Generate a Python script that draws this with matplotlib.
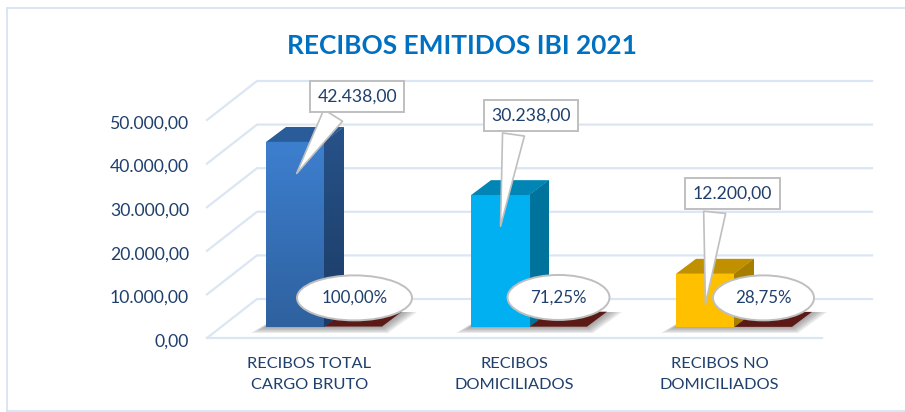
import numpy as np
import matplotlib.pyplot as plt
from matplotlib.lines import Line2D
from matplotlib.patches import Ellipse, Polygon
from matplotlib.colors import LinearSegmentedColormap
from matplotlib.transforms import ScaledTranslation

plt.rcParams['font.family'] = ['Lato', 'DejaVu Sans']

# datos
categorias = ['RECIBOS TOTAL\nCARGO BRUTO', 'RECIBOS\nDOMICILIADOS', 'RECIBOS NO\nDOMICILIADOS']
recibos = [42438.00, 30238.00, 12200.00]
porcentajes = [100.00, 71.25, 28.75]
ticks_y = [0, 10000, 20000, 30000, 40000, 50000]

W, H = 905, 412
ESC_X = 205.0        # px por categoria
ESC_Y = 218 / 50000  # px por unidad

# colores de cada barra: frente arriba, frente abajo, lateral arriba, lateral abajo, tapa
colores = [('#3d7fcf', '#2f619f', '#275289', '#1c3c66', '#2a5c99'),
           ('#00b0f0', '#00b0f0', '#00739c', '#00739c', '#0085b5'),
           ('#ffc000', '#ffc000', '#a67e00', '#a67e00', '#c09000')]
texto = '#1f3f6d'
rejilla = '#dbe6f4'
marco = '#d3e2f3'


def px_x(p):
    return p / ESC_X


def px_y(p):
    return p / ESC_Y


def numero(v):
    return f'{v:,.2f}'.replace(',', 'X').replace('.', ',').replace('X', '.')


fig = plt.figure(figsize=(W / 100, H / 100), dpi=100)
# marco: izquierda, arriba y abajo
for xs, ys in [([7, 7], [8, 411]), ([7, W], [8, 8]), ([7, W], [411, 411])]:
    fig.add_artist(Line2D([x / W for x in xs], [(H - y) / H for y in ys], color=marco, lw=1.2))

ax = fig.add_axes([207 / W, (H - 338) / H, 615 / W, 218 / H])
ax.set_xlim(-0.5, 2.5)
ax.set_ylim(0, 50000)
for s in ax.spines.values():
    s.set_visible(False)
ax.patch.set_alpha(0)

# profundidad del suelo y de la barra
prof_x, prof_y = px_x(50), px_y(39)
sep_x, sep_y = px_x(14.5), px_y(11)
bar_x, bar_y = px_x(20), px_y(15)
ancho = px_x(58)

# rejilla
for t in ticks_y:
    ax.plot([-0.5, -0.5 + prof_x, 2.5 + prof_x], [t, t + prof_y, t + prof_y],
            color=rejilla, lw=1.6, clip_on=False, zorder=1)
ax.plot([-0.5, 2.5], [0, 0], color=rejilla, lw=1.6, clip_on=False, zorder=1)


def degradado(patch, c1, c2, x0, x1, y0, y1, z):
    cm = LinearSegmentedColormap.from_list('g', [c2, c1])
    im = ax.imshow(np.linspace(1, 0, 64).reshape(-1, 1), cmap=cm, extent=(x0, x1, y0, y1),
                   aspect='auto', zorder=z, clip_on=True)
    im.set_clip_path(patch)


for i, (v, p) in enumerate(zip(recibos, porcentajes)):
    c = colores[i]
    x0 = i - ancho + sep_x
    x1 = i + sep_x
    x2 = i + ancho + sep_x
    y0 = sep_y

    # sombra
    for k in range(5):
        e = px_x(3 * (5 - k))
        s = px_y(1.2 * (5 - k))
        ax.add_patch(Polygon([(x0 - e, y0 - s), (x2 + e * 0.4, y0 - s),
                              (x2 + bar_x + e, y0 + bar_y), (x0 + bar_x, y0 + bar_y)],
                             fc='#555555', ec='none', alpha=0.12, zorder=2, clip_on=False))

    # serie de porcentajes: casi plana sobre el suelo
    ax.bar(i + ancho / 2 + sep_x, p, ancho, bottom=y0, color='#5c1a16', zorder=3)
    ax.add_patch(Polygon([(x1, y0 + p), (x2, y0 + p), (x2 + bar_x, y0 + p + bar_y), (x1 + bar_x, y0 + p + bar_y)],
                         fc='#5c1a16', ec='none', zorder=3, clip_on=False))

    # serie de recibos
    lat = Polygon([(x1, y0), (x1 + bar_x, y0 + bar_y), (x1 + bar_x, y0 + v + bar_y), (x1, y0 + v)],
                  fc=c[2], ec='none', zorder=4, clip_on=False)
    ax.add_patch(lat)
    degradado(lat, c[2], c[3], x1, x1 + bar_x, y0, y0 + v + bar_y, 4)
    ax.add_patch(Polygon([(x0, y0 + v), (x1, y0 + v), (x1 + bar_x, y0 + v + bar_y), (x0 + bar_x, y0 + v + bar_y)],
                         fc=c[4], ec='none', zorder=4, clip_on=False))
    frente = ax.bar(i - ancho / 2 + sep_x, v, ancho, bottom=y0, color=c[0], zorder=5, clip_on=False)[0]
    degradado(frente, c[0], c[1], x0, x1, y0, y0 + v, 5)

ax.set_xlim(-0.5, 2.5)
ax.set_ylim(0, 50000)

# etiquetas de porcentaje
centros = [(45, 9200), (44, 9300), (44, 9200)]
anchos = [115, 102, 101]
for i, p in enumerate(porcentajes):
    cx = i + px_x(centros[i][0])
    ax.add_patch(Ellipse((cx, centros[i][1]), px_x(anchos[i]), px_y(45), fc='white', ec='#bfbfbf',
                         lw=1.4, zorder=7, clip_on=False))
    ax.text(cx, centros[i][1], f'{p:.2f}%'.replace('.', ','), ha='center', va='center',
            fontsize=12.2, color=texto, zorder=8)

# etiquetas de recibos con su flecha
puntas = [(-0.07, 37200), (-0.07, 25000), (-0.07, 7100)]
cajas = [(0.233, 55300), (0.08, 51000), (0.063, 33150)]
bases = [0.28, 0.3, 0.29]
for i, v in enumerate(recibos):
    ax.annotate(numero(v), xy=(i + puntas[i][0], puntas[i][1]), xytext=(i + cajas[i][0], cajas[i][1]),
                ha='center', va='center', fontsize=12.7, color=texto, zorder=9, annotation_clip=False,
                bbox=dict(boxstyle='square,pad=0.42', fc='white', ec='#bfbfbf', lw=1.4),
                arrowprops=dict(arrowstyle='wedge,tail_width=1.25', fc='white', ec='#bfbfbf', lw=1.2,
                                relpos=(bases[i], 0)))

# ejes
ax.set_yticks(ticks_y)
ax.set_yticklabels([numero(t) for t in ticks_y], fontsize=12.7, color=texto)
ax.set_xticks(range(3))
ax.set_xticklabels(categorias, fontsize=11.8, color=texto, linespacing=1.56)
ax.tick_params(axis='both', length=0)
ax.tick_params(axis='y', pad=13)
ax.tick_params(axis='x', pad=14)
bajar = ScaledTranslation(0, -2 / 100, fig.dpi_scale_trans)
for lbl in ax.get_yticklabels():
    lbl.set_transform(lbl.get_transform() + bajar)

fig.text(462 / W, (H - 46) / H, 'RECIBOS EMITIDOS IBI 2021', ha='center', va='center',
         fontsize=18.9, fontweight='bold', color='#0070c0')

plt.savefig('out.png', dpi=100)
